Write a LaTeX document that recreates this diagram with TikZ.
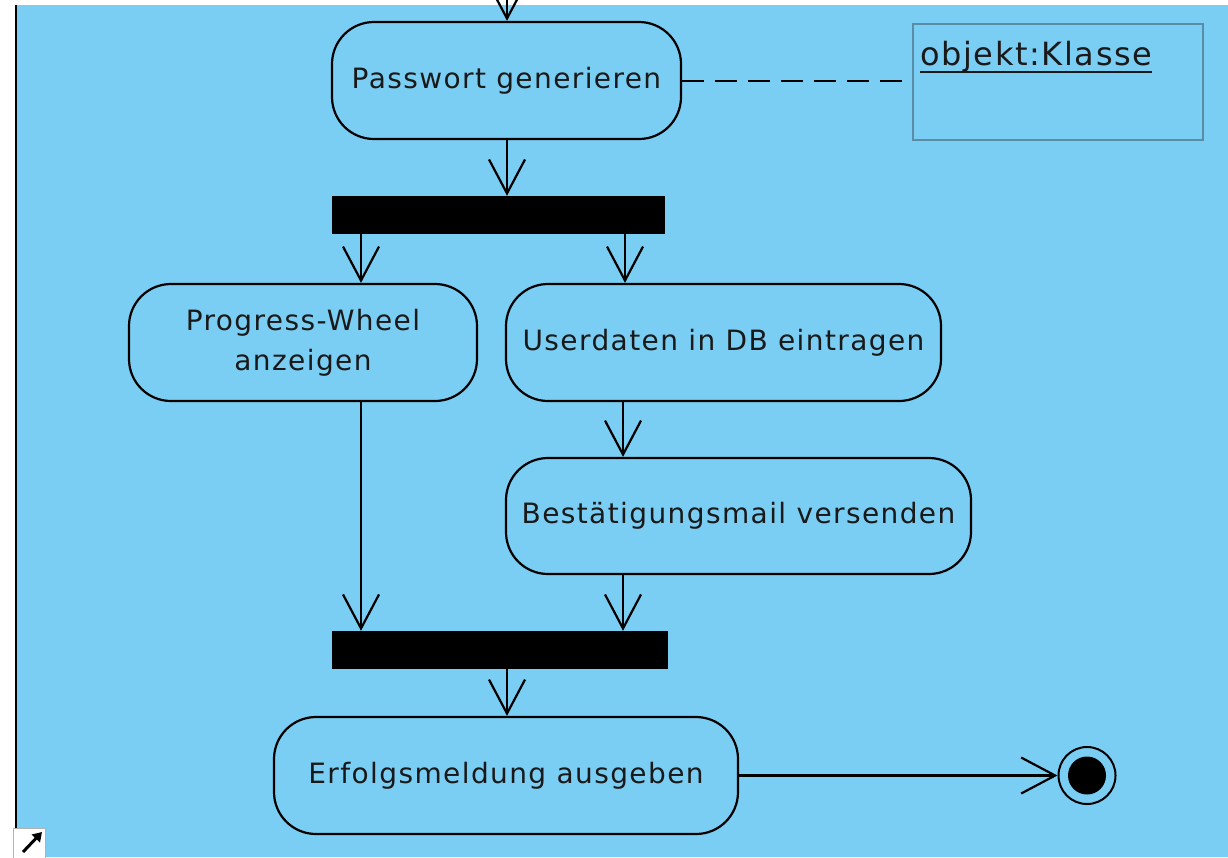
\documentclass[tikz,border=0pt]{standalone}
\usepackage{fontspec}
\setmainfont{DejaVu Sans}[LetterSpace=5]
\usetikzlibrary{arrows.meta,calc}
\definecolor{bg}{RGB}{123,206,243}
\definecolor{txt}{RGB}{25,25,25}
\definecolor{objborder}{RGB}{90,140,165}
\tikzset{
  act/.style={draw=black, line width=2.2pt, rounded corners=42pt, fill=bg, text=txt,
    font=\fontsize{28}{40}\selectfont, align=center, inner sep=0pt},
  bar/.style={fill=black, draw=black, inner sep=0pt},
  flow/.style={draw=black, line width=2.2pt, -{Straight Barb[length=34pt,width=36pt,line width=2.2pt]}},
}
\begin{document}
\begin{tikzpicture}[x=1pt,y=-1pt]
\useasboundingbox (0,0) rectangle (1228,857);
\fill[white] (0,0) rectangle (1228,857);
\fill[bg] (16,5) rectangle (1228,857);
\draw[black, line width=2pt] (15.5,5) -- (15.5,828);

% actions
\node[act, minimum width=349pt, minimum height=117pt] (pw) at (506.5,80.5) {\raisebox{-2pt}{Passwort generieren}};
\node[bar, minimum width=332pt, minimum height=37pt] (fork) at (498,214.5) {};
\node[act, minimum width=348pt, minimum height=117pt] (prog) at (303,342.5) {Progress-Wheel\\anzeigen};
\node[act, minimum width=435pt, minimum height=117pt] (user) at (723.5,342.5) {\raisebox{-2pt}{Userdaten in DB eintragen}};
\node[act, minimum width=465pt, minimum height=116pt] (best) at (738.5,516) {\raisebox{-2pt}{Bestätigungsmail versenden}};
\node[bar, minimum width=335pt, minimum height=37pt] (join) at (499.5,649.5) {};
\node[act, minimum width=464pt, minimum height=117pt] (erf) at (506,775.5) {\raisebox{-2pt}{Erfolgsmeldung ausgeben}};

% final node
\node[circle, draw=black, line width=2pt, minimum size=57pt, inner sep=0pt] (final) at (1087,775.5) {};
\node[circle, fill=black, minimum size=38pt, inner sep=0pt] (finalin) at (1087,775.5) {};

% object
\node[draw=objborder, line width=1.5pt, minimum width=290pt, minimum height=116pt, inner sep=0pt, anchor=north west] (obj) at (912,23) {};
\node[anchor=base west, inner sep=0pt, text=txt, font=\fontsize{32}{38}\selectfont] (objt) at (920,65) {objekt:Klasse};
\draw[txt, line width=2pt] ($(objt.base west)+(0,7)$) -- ($(objt.base east)+(0,7)$);

% coordinates
\coordinate (top) at (507,0);
\coordinate (xl) at (361,0);
\coordinate (xr) at (625,0);
\coordinate (xr2) at (623,0);
\coordinate (xm) at (507,0);

% flows
\draw[flow] (top) -- (pw.north -| top);
\draw[flow] (pw.south -| xm) -- (fork.north -| xm);
\draw[flow] (fork.south -| xl) -- (prog.north -| xl);
\draw[flow] (fork.south -| xr) -- (user.north -| xr);
\draw[flow] (user.south -| xr2) -- (best.north -| xr2);
\draw[flow] (prog.south -| xl) -- (join.north -| xl);
\draw[flow] (best.south -| xr2) -- (join.north -| xr2);
\draw[flow] (join.south -| xm) -- (erf.north -| xm);
\draw[flow] (erf.east) -- (final.west);
\draw[black, line width=2pt, dash pattern=on 22pt off 11pt] (pw.east) -- (pw.east -| obj.west);

% corner icon
\node[draw=gray!60, fill=white, line width=1pt, minimum width=32pt, minimum height=32pt, inner sep=0pt, anchor=north west] (icon) at (13,828) {};
\coordinate (ia) at (23,852);
\coordinate (ib) at (42,832);
\draw[black, line width=3pt, -{Triangle[length=9pt,width=11pt]}] (ia) -- (ib);
\end{tikzpicture}
\end{document}
